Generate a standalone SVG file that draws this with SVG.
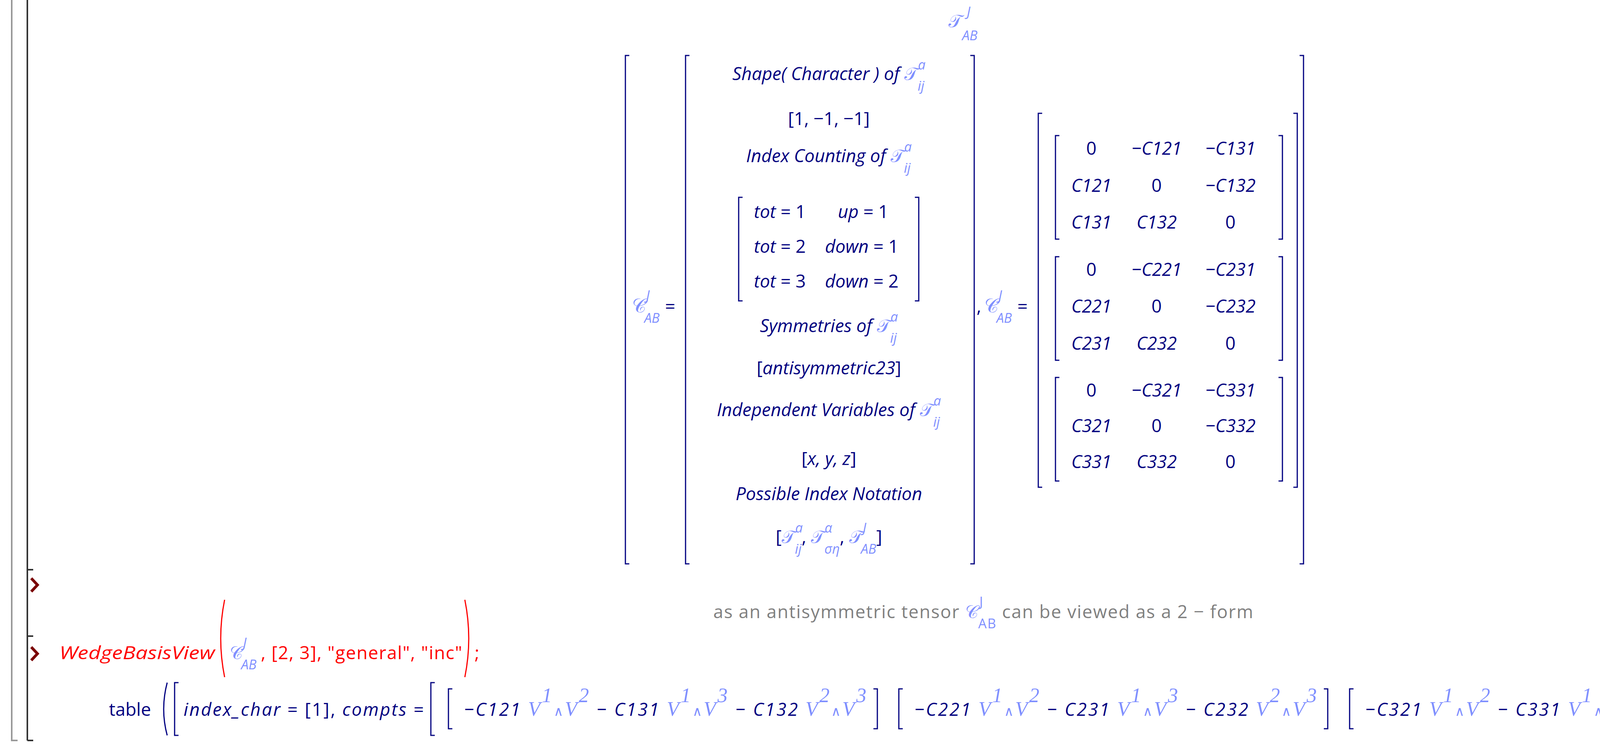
<svg xmlns="http://www.w3.org/2000/svg" width="4950" height="1922" viewBox="0 0 4950 1922">
<style>
text{font-family:"Open Sans","DejaVu Sans",sans-serif;font-size:46px;fill:#000080;font-style:italic}
.up{font-style:normal}
.sc{font-family:"DejaVu Serif","Noto Sans",serif;fill:#7f8fff;font-style:normal}
.lb{fill:#7f8fff}
.sm{font-size:34px}
.br{stroke:#000080;stroke-width:3;fill:none}
.num{font-family:"Liberation Serif",serif;font-weight:bold;font-style:normal;fill:#000;font-size:42px}
.red{fill:#ff0000}
.gray{fill:#808080;font-style:normal}
.v{font-family:"Liberation Serif",serif;fill:#7f8fff;font-size:52px}
.m{text-anchor:middle}
</style>
<g id="margin">
<path d="M30 0 V1895 H45" stroke="#999" stroke-width="4" fill="none"/>
<path d="M70 0 V1895 M70 1458 H85 M70 1628 H85 M70 1895 H85" stroke="#333" stroke-width="4" fill="none"/>
<path d="M80 1480 L96 1497 L80 1514 M80 1656 L96 1673 L80 1690" stroke="#7a0000" stroke-width="7" fill="none"/>
</g>
<g id="title">
<text class="sc" x="2428" y="70" font-size="54">𝒯</text><text class="lb sm" x="2475" y="42">J</text><text class="lb sm" x="2463" y="103">AB</text>
</g>
<g id="brackets">
<path class="br" d="M1611 142 H1601 V1443 H1611 M1765 142 H1755 V1443 H1765 M2484 142 H2494 V1443 H2484 M3327 142 H3337 V1443 H3327"/>
<path class="br" d="M1901 505 H1891 V770 H1901 M2342 505 H2352 V770 H2342"/>
<path class="br" d="M2668 290 H2658 V1247 H2668 M3311 290 H3321 V1247 H3311"/>
<path class="br" d="M2712 347 H2702 V612 H2712 M3273 347 H3283 V612 H3273 M2712 657 H2702 V922 H2712 M3273 657 H3283 V922 H3273 M2712 966 H2702 V1231 H2712 M3273 966 H3283 V1231 H3273"/>
</g>
<g id="lhs">
<text x="1618" y="800"><tspan class="sc" font-size="50">𝒞</tspan><tspan class="lb sm" dy="-32">J</tspan><tspan class="lb sm" dx="-14" dy="58">AB</tspan><tspan class="up" dx="14" dy="-26">=</tspan></text>
<text x="2500" y="800"><tspan class="up">,</tspan><tspan class="sc" dx="8" font-size="50">𝒞</tspan><tspan class="lb sm" dy="-32">J</tspan><tspan class="lb sm" dx="-14" dy="58">AB</tspan><tspan class="up" dx="14" dy="-26">=</tspan></text>
</g>
<g id="col1">
<text class="m" x="2122" y="205">Shape( Character ) of <tspan class="sc">𝒯</tspan><tspan class="lb sm" dy="-27">a</tspan><tspan class="lb sm" dx="-20" dy="54">ij</tspan></text>
<text class="up m" x="2122" y="320">[1, −1, −1]</text>
<text class="m" x="2122" y="415">Index Counting of <tspan class="sc">𝒯</tspan><tspan class="lb sm" dy="-27">a</tspan><tspan class="lb sm" dx="-20" dy="54">ij</tspan></text>
<text x="1930" y="558">tot<tspan class="up"> = 1</tspan></text><text x="2145" y="558">up<tspan class="up"> = 1</tspan></text>
<text x="1930" y="647">tot<tspan class="up"> = 2</tspan></text><text x="2112" y="647">down<tspan class="up"> = 1</tspan></text>
<text x="1930" y="736">tot<tspan class="up"> = 3</tspan></text><text x="2112" y="736">down<tspan class="up"> = 2</tspan></text>
<text class="m" x="2122" y="850">Symmetries of <tspan class="sc">𝒯</tspan><tspan class="lb sm" dy="-27">a</tspan><tspan class="lb sm" dx="-20" dy="54">ij</tspan></text>
<text class="m" x="2122" y="958"><tspan class="up">[</tspan>antisymmetric23<tspan class="up">]</tspan></text>
<text class="m" x="2122" y="1065">Independent Variables of <tspan class="sc">𝒯</tspan><tspan class="lb sm" dy="-27">a</tspan><tspan class="lb sm" dx="-20" dy="54">ij</tspan></text>
<text class="m" x="2122" y="1190"><tspan class="up">[</tspan>x, y, z<tspan class="up">]</tspan></text>
<text class="m" x="2122" y="1280">Possible Index Notation</text>
<text class="m" x="2122" y="1390"><tspan class="up">[</tspan><tspan class="sc">𝒯</tspan><tspan class="lb sm" dy="-27">a</tspan><tspan class="lb sm" dx="-20" dy="54">ij</tspan><tspan class="up" dy="-27">, </tspan><tspan class="sc">𝒯</tspan><tspan class="lb sm" dy="-27">α</tspan><tspan class="lb sm" dx="-20" dy="54">ση</tspan><tspan class="up" dy="-27">, </tspan><tspan class="sc">𝒯</tspan><tspan class="lb sm" dy="-27">J</tspan><tspan class="lb sm" dx="-14" dy="54">AB</tspan><tspan class="up" dy="-27">]</tspan></text>
</g>
<g id="matrices">
<text class="up m" x="2794" y="396">0</text><text class="m" x="2961" y="396">−C121</text><text class="m" x="3150" y="396">−C131</text>
<text class="m" x="2794" y="491">C121</text><text class="up m" x="2961" y="491">0</text><text class="m" x="3150" y="491">−C132</text>
<text class="m" x="2794" y="585">C131</text><text class="m" x="2961" y="585">C132</text><text class="up m" x="3150" y="585">0</text>
<text class="up m" x="2794" y="706">0</text><text class="m" x="2961" y="706">−C221</text><text class="m" x="3150" y="706">−C231</text>
<text class="m" x="2794" y="800">C221</text><text class="up m" x="2961" y="800">0</text><text class="m" x="3150" y="800">−C232</text>
<text class="m" x="2794" y="895">C231</text><text class="m" x="2961" y="895">C232</text><text class="up m" x="3150" y="895">0</text>
<text class="up m" x="2794" y="1015">0</text><text class="m" x="2961" y="1015">−C321</text><text class="m" x="3150" y="1015">−C331</text>
<text class="m" x="2794" y="1106">C321</text><text class="up m" x="2961" y="1106">0</text><text class="m" x="3150" y="1106">−C332</text>
<text class="m" x="2794" y="1198">C331</text><text class="m" x="2961" y="1198">C332</text><text class="up m" x="3150" y="1198">0</text>
</g>
<text class="num" x="4855" y="805">(7.2)</text>
<g id="comment">
<text class="gray" x="1826" y="1582" textLength="1382">as an antisymmetric tensor <tspan class="sc">𝒞</tspan><tspan class="lb sm" dy="-30">J</tspan><tspan class="lb sm" dx="-14" dy="56">AB</tspan><tspan dy="-26"> can be viewed as a 2 − form</tspan></text>
</g>
<g id="cmd">
<text class="red" x="152" y="1687" textLength="398" lengthAdjust="spacingAndGlyphs">WedgeBasisView</text>
<path d="M575 1535 Q555 1634 575 1733 M1190 1535 Q1210 1634 1190 1733" stroke="#ff0000" stroke-width="3" fill="none"/>
<text x="588" y="1687"><tspan class="sc">𝒞</tspan><tspan class="lb sm" dy="-30">J</tspan><tspan class="lb sm" dx="-14" dy="56">AB</tspan></text>
<text class="red up" x="668" y="1687" textLength="515">, [2, 3], "general", "inc"</text><text class="red up" x="1215" y="1687">;</text>
</g>
<g id="result">
<text class="up" x="279" y="1832">table</text>
<path d="M428 1747 Q410 1815 428 1882" stroke="#000080" stroke-width="3" fill="none"/>
<path class="br" d="M457 1747 H447 V1882 H457 M1113 1747 H1103 V1882 H1113 M1158 1763 H1148 V1865 H1158 M2236 1763 H2246 V1865 H2236 M2311 1763 H2301 V1865 H2311 M3389 1763 H3399 V1865 H3389 M3465 1763 H3455 V1865 H3465 M4545 1763 H4555 V1865 H4545 M4585 1747 H4595 V1882 H4585 M4606 1747 H4616 V1882 H4606"/>
<path d="M4630 1747 Q4648 1815 4630 1882" stroke="#000080" stroke-width="3" fill="none"/>
<text x="470" y="1832" textLength="615">index_char<tspan class="up"> = [1], </tspan>compts<tspan class="up"> =</tspan></text>
<text x="1188" y="1832" textLength="1030">−C121 <tspan class="v">V</tspan><tspan class="v sm" dy="-35">1</tspan><tspan class="lb sm up" dy="35">∧</tspan><tspan class="v">V</tspan><tspan class="v sm" dy="-35">2</tspan><tspan dy="35"> − C131 </tspan><tspan class="v">V</tspan><tspan class="v sm" dy="-35">1</tspan><tspan class="lb sm up" dy="35">∧</tspan><tspan class="v">V</tspan><tspan class="v sm" dy="-35">3</tspan><tspan dy="35"> − C132 </tspan><tspan class="v">V</tspan><tspan class="v sm" dy="-35">2</tspan><tspan class="lb sm up" dy="35">∧</tspan><tspan class="v">V</tspan><tspan class="v sm" dy="-35">3</tspan></text>
<text x="2341" y="1832" textLength="1030">−C221 <tspan class="v">V</tspan><tspan class="v sm" dy="-35">1</tspan><tspan class="lb sm up" dy="35">∧</tspan><tspan class="v">V</tspan><tspan class="v sm" dy="-35">2</tspan><tspan dy="35"> − C231 </tspan><tspan class="v">V</tspan><tspan class="v sm" dy="-35">1</tspan><tspan class="lb sm up" dy="35">∧</tspan><tspan class="v">V</tspan><tspan class="v sm" dy="-35">3</tspan><tspan dy="35"> − C232 </tspan><tspan class="v">V</tspan><tspan class="v sm" dy="-35">2</tspan><tspan class="lb sm up" dy="35">∧</tspan><tspan class="v">V</tspan><tspan class="v sm" dy="-35">3</tspan></text>
<text x="3495" y="1832" textLength="1030">−C321 <tspan class="v">V</tspan><tspan class="v sm" dy="-35">1</tspan><tspan class="lb sm up" dy="35">∧</tspan><tspan class="v">V</tspan><tspan class="v sm" dy="-35">2</tspan><tspan dy="35"> − C331 </tspan><tspan class="v">V</tspan><tspan class="v sm" dy="-35">1</tspan><tspan class="lb sm up" dy="35">∧</tspan><tspan class="v">V</tspan><tspan class="v sm" dy="-35">3</tspan><tspan dy="35"> − C332 </tspan><tspan class="v">V</tspan><tspan class="v sm" dy="-35">2</tspan><tspan class="lb sm up" dy="35">∧</tspan><tspan class="v">V</tspan><tspan class="v sm" dy="-35">3</tspan></text>
<text class="num" x="4855" y="1827">(7.3)</text>
</g>
</svg>
